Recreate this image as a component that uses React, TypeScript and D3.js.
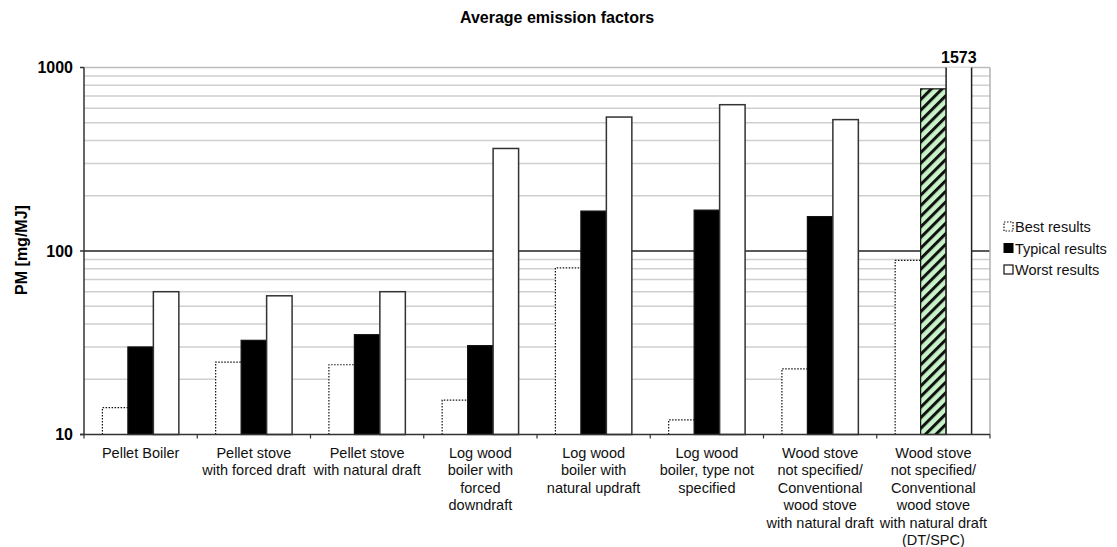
import React from "react";
import * as d3 from "d3";

const categories: string[][] = [
  ["Pellet Boiler"],
  ["Pellet stove", "with forced draft"],
  ["Pellet stove", "with natural draft"],
  ["Log wood", "boiler with", "forced", "downdraft"],
  ["Log wood", "boiler with", "natural updraft"],
  ["Log wood", "boiler, type not", "specified"],
  ["Wood stove", "not specified/", "Conventional", "wood stove", "with natural draft"],
  ["Wood stove", "not specified/", "Conventional", "wood stove", "with natural draft", "(DT/SPC)"],
];
const bestResults = [14, 24.8, 24, 15.4, 81, 12, 22.8, 89];
const typicalResults = [30, 32.6, 35, 30.5, 165, 167, 154, 765];
const worstResults = [60, 57, 60, 362, 537, 627, 520, 1573];
const seriesNames = ["Best results", "Typical results", "Worst results"];
const yTicks = [10, 100, 1000];

const W = 1117, H = 547;
const L = 84, R = 990, T = 67.5, B = 434.5;
const FONT = "'Liberation Sans', Arial, sans-serif";

export default function App() {
  const x = d3.scaleBand<number>().domain(d3.range(categories.length)).range([L, R]).paddingInner(0).paddingOuter(0);
  const bw = x.bandwidth();
  const inner = d3.scaleBand<number>().domain([0, 1, 2]).range([bw * 0.1625, bw * 0.8375]).padding(0);
  const y = d3.scaleLog().domain([10, 1000]).range([B, T]);

  const minor: number[] = [];
  [10, 100].forEach((d) => {
    for (let k = 2; k <= 9; k++) minor.push(d * k);
  });
  const cl = (v: number) => Math.max(y(Math.min(v, 1000)), T);

  return (
    <svg width={W} height={H} style={{ position: "absolute", left: 0, top: 0 }} fontFamily={FONT}>
      <defs>
        <pattern id="hatch" patternUnits="userSpaceOnUse" width="7.5" height="7.5" patternTransform="rotate(45)">
          <rect width="7.5" height="7.5" fill="#c8f2c8" />
          <rect x="0" y="0" width="3" height="7.5" fill="#111" />
        </pattern>
      </defs>
      <rect width={W} height={H} fill="#fff" />
      <text x={557} y={23} textAnchor="middle" fontWeight="bold" fontSize={16}>Average emission factors</text>

      {/* grid */}
      {minor.map((m) => (
        <line key={m} x1={L} x2={R} y1={y(m)} y2={y(m)} stroke="#cfcfcf" strokeWidth={1.5} />
      ))}
      <line x1={L} x2={R} y1={y(1000)} y2={y(1000)} stroke="#bdbdbd" strokeWidth={1.5} />
      <line x1={L} x2={R} y1={y(100)} y2={y(100)} stroke="#222" strokeWidth={1.3} />
      <line x1={R} x2={R} y1={T} y2={B} stroke="#b0b0b0" strokeWidth={1.5} />

      {/* bars */}
      {categories.map((_, i) => {
        const x0 = (x(i) as number);
        const xb = x0 + (inner(0) as number);
        const xt = x0 + (inner(1) as number);
        const xw = x0 + (inner(2) as number);
        const ib = inner.bandwidth();
        const last = i === categories.length - 1;
        const yb = cl(bestResults[i]);
        const yt = cl(typicalResults[i]);
        const yw = cl(worstResults[i]);
        return (
          <g key={i}>
            <rect x={xb} y={yb} width={ib} height={B - yb} fill="#fff" />
            <path d={`M${xb},${B}V${yb}H${xb + ib}`} fill="none" stroke="#111" strokeWidth={1.2} strokeDasharray="1.5,1.5" />
            <rect x={xt} y={yt} width={ib} height={B - yt} fill={last ? "url(#hatch)" : "#000"} stroke="#111" strokeWidth={1.2} />
            <rect x={xw} y={yw} width={ib} height={B - yw} fill="#fff" />
            {worstResults[i] > 1000 ? (
              <path d={`M${xw},${B}V${yw}M${xw + ib},${yw}V${B}`} fill="none" stroke="#222" strokeWidth={1.5} />
            ) : (
              <rect x={xw} y={yw} width={ib} height={B - yw} fill="none" stroke="#333" strokeWidth={1.5} />
            )}
            {worstResults[i] > 1000 && (
              <text x={xw + ib / 2} y={63} textAnchor="middle" fontWeight="bold" fontSize={16}>{worstResults[i]}</text>
            )}
          </g>
        );
      })}

      {/* axes */}
      <line x1={L} x2={L} y1={T} y2={B} stroke="#333" strokeWidth={1.5} />
      <line x1={L - 4} x2={R} y1={B} y2={B} stroke="#333" strokeWidth={1.5} />
      {yTicks.map((t) => (
        <g key={t}>
          <line x1={L - 4} x2={L} y1={y(t)} y2={y(t)} stroke="#333" strokeWidth={1.5} />
          <text x={73} y={y(t) + 5.5} textAnchor="end" fontWeight="bold" fontSize={16}>{t}</text>
        </g>
      ))}
      {d3.range(categories.length + 1).map((i) => {
        const xx = L + i * bw;
        return <line key={i} x1={xx} x2={xx} y1={B} y2={B + 4} stroke="#333" strokeWidth={1.2} />;
      })}
      {categories.map((lines, i) => (
        <text key={i} textAnchor="middle" fontSize={14.5} fill="#111">
          {lines.map((ln, j) => (
            <tspan key={j} x={(x(i) as number) + bw / 2} y={458 + j * 17.4}>{ln}</tspan>
          ))}
        </text>
      ))}
      <text transform={`translate(27,250) rotate(-90)`} textAnchor="middle" fontWeight="bold" fontSize={16}>PM [mg/MJ]</text>

      {/* legend */}
      {seriesNames.map((s, i) => {
        const ly = 232 + i * 21.5;
        return (
          <g key={s}>
            {i === 0 && <rect x={1004} y={ly - 10} width={9} height={9} fill="#fff" stroke="#111" strokeWidth={1.2} strokeDasharray="1.5,1.5" />}
            {i === 1 && <rect x={1004} y={ly - 10} width={9} height={9} fill="#000" stroke="#000" strokeWidth={1} />}
            {i === 2 && <rect x={1004} y={ly - 10} width={9} height={9} fill="#fff" stroke="#111" strokeWidth={1.2} />}
            <text x={1015} y={ly} fontSize={14.5} fill="#111">{s}</text>
          </g>
        );
      })}
    </svg>
  );
}
